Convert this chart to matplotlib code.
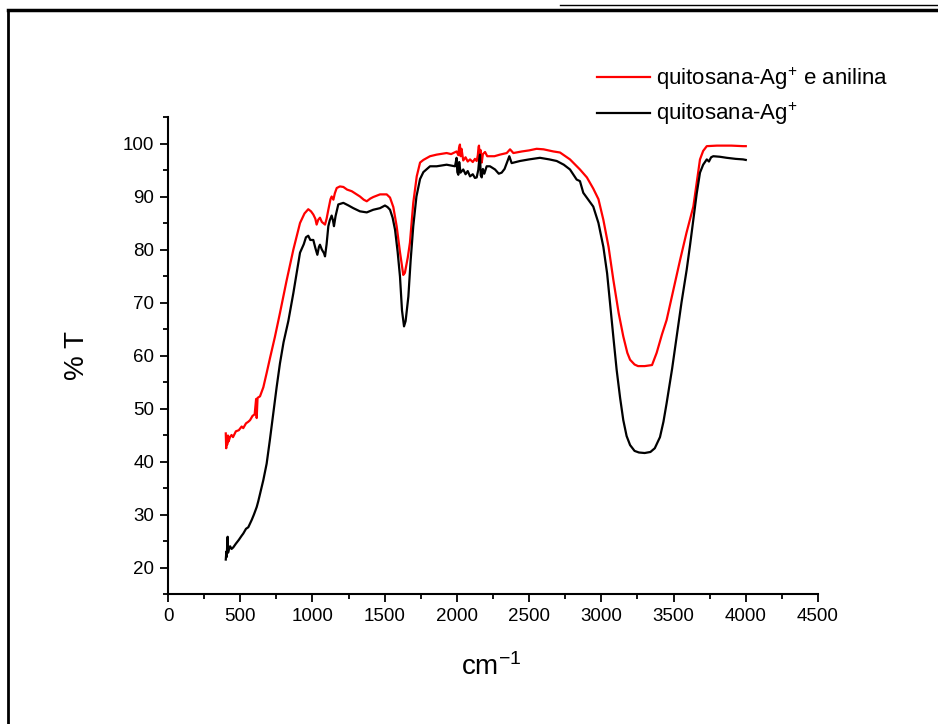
import matplotlib
matplotlib.use("Agg")
import matplotlib.pyplot as plt
from matplotlib.lines import Line2D
from matplotlib.ticker import MultipleLocator

plt.rcParams['font.family'] = ['Liberation Sans', 'DejaVu Sans']
plt.rcParams['mathtext.fontset'] = 'custom'
plt.rcParams['mathtext.rm'] = 'Liberation Sans'
plt.rcParams['mathtext.it'] = 'Liberation Sans'

# quitosana-Ag+ e anilina (red)
wn_red = [400, 403, 406, 410, 415, 420, 429, 440, 450, 470, 490, 510, 521, 540, 556, 568,
          585, 600, 610, 614, 620, 637, 660, 683, 706, 740, 775, 820, 868, 914, 945, 971,
          990, 1006, 1020, 1029, 1040, 1052, 1065, 1087, 1098, 1110, 1125, 1133, 1145, 1155,
          1168, 1190, 1214, 1240, 1272, 1300, 1329, 1355, 1376, 1400, 1421, 1468, 1514, 1537,
          1560, 1583, 1606, 1629, 1640, 1660, 1675, 1698, 1722, 1745, 1768, 1814, 1860, 1929,
          1960, 1998, 2010, 2015, 2021, 2026, 2032, 2044, 2060, 2075, 2091, 2110, 2125, 2137,
          2145, 2150, 2153, 2158, 2163, 2172, 2180, 2195, 2210, 2229, 2260, 2298, 2345, 2368,
          2391, 2450, 2500, 2552, 2600, 2668, 2714, 2783, 2852, 2900, 2944, 2980, 3014, 3050,
          3083, 3120, 3152, 3180, 3199, 3230, 3254, 3300, 3351, 3383, 3420, 3452, 3500, 3545,
          3590, 3637, 3660, 3683, 3705, 3730, 3800, 3900, 3981, 4000]
t_red = [45.3, 42.5, 44.8, 43.2, 44.9, 43.8, 44.6, 45.0, 44.6, 45.7, 45.9, 46.6, 46.3, 47.2, 47.5, 47.8,
         48.6, 48.9, 51.8, 48.2, 52.0, 52.3, 54.0, 56.7, 59.5, 63.5, 68.0, 74.0, 80.0, 85.0, 86.8, 87.6,
         87.2, 86.6, 85.8, 84.7, 85.6, 86.0, 85.2, 84.7, 85.8, 87.5, 89.5, 90.0, 89.4, 90.6,
         91.6, 91.9, 91.8, 91.3, 91.0, 90.5, 90.0, 89.4, 89.1, 89.6, 89.9, 90.4, 90.4, 89.8,
         88.0, 84.4, 79.5, 75.2, 75.6, 78.5, 81.3, 88.8, 93.8, 96.4, 96.9, 97.6, 97.9, 98.2,
         98.0, 98.5, 97.8, 99.2, 99.8, 97.6, 99.0, 96.8, 97.4, 96.6, 97.0, 96.5, 97.1, 96.7,
         97.8, 99.3, 99.6, 96.6, 98.8, 96.4, 98.0, 98.4, 97.6, 97.6, 97.6, 97.9, 98.2, 98.9,
         98.2, 98.5, 98.7, 99.0, 98.9, 98.5, 98.3, 97.0, 95.1, 93.6, 91.5, 89.5, 85.6, 80.5,
         74.3, 68.0, 63.6, 60.5, 59.2, 58.3, 58.0, 58.0, 58.2, 60.5, 64.0, 66.7, 72.5, 78.0,
         83.2, 88.1, 92.5, 97.0, 98.6, 99.5, 99.6, 99.6, 99.5, 99.5]

# quitosana-Ag+ (black)
wn_black = [400, 404, 407, 410, 413, 416, 420, 430, 440, 452, 470, 490, 510, 521, 540, 556,
            580, 595, 614, 625, 637, 660, 683, 705, 729, 752, 775, 800, 833, 868, 914, 940,
            955, 971, 985, 1006, 1020, 1034, 1045, 1052, 1065, 1080, 1087, 1098, 1110, 1120,
            1133, 1142, 1149, 1160, 1179, 1214, 1250, 1283, 1329, 1376, 1421, 1468, 1502, 1520,
            1537, 1555, 1572, 1590, 1606, 1620, 1634, 1645, 1664, 1680, 1698, 1720, 1745, 1768,
            1814, 1860, 1929, 1987, 1995, 1998, 2003, 2010, 2016, 2025, 2044, 2060, 2075, 2091,
            2110, 2125, 2137, 2148, 2155, 2160, 2165, 2172, 2180, 2190, 2206, 2229, 2264, 2290,
            2310, 2330, 2345, 2363, 2379, 2437, 2500, 2575, 2640, 2691, 2740, 2783, 2829, 2852,
            2875, 2944, 2980, 3014, 3040, 3060, 3085, 3106, 3130, 3152, 3175, 3199, 3230, 3260,
            3300, 3340, 3370, 3406, 3430, 3452, 3490, 3522, 3555, 3591, 3615, 3637, 3660, 3683,
            3705, 3730, 3745, 3760, 3775, 3820, 3868, 3930, 3981, 4000]
t_black = [21.5, 23.0, 22.0, 24.5, 25.8, 22.8, 23.3, 24.0, 23.5, 23.8, 24.5, 25.2, 26.0, 26.4, 27.3, 27.6,
           29.0, 30.0, 31.4, 32.5, 33.9, 36.5, 39.6, 44.0, 49.1, 54.0, 58.5, 62.5, 66.5, 71.8, 79.4, 81.0,
           82.3, 82.6, 81.8, 81.8, 80.3, 79.0, 80.5, 80.9, 80.0, 79.3, 78.7, 81.0, 84.4, 85.5,
           86.4, 85.5, 84.4, 86.3, 88.5, 88.8, 88.3, 87.8, 87.2, 87.0, 87.5, 87.8, 88.3, 88.0,
           87.5, 86.0, 83.7, 79.5, 74.9, 68.5, 65.5, 66.5, 71.1, 78.0, 84.4, 90.0, 93.3, 94.6,
           95.7, 95.7, 96.0, 95.7, 96.8, 97.3, 94.6, 94.1, 96.5, 94.5, 95.1, 94.2, 94.8, 93.8,
           94.2, 93.5, 93.6, 95.0, 97.0, 97.9, 94.0, 93.6, 95.2, 94.3, 95.7, 95.7, 95.1, 94.3,
           94.5, 95.2, 96.3, 97.6, 96.3, 96.7, 97.0, 97.3, 97.0, 96.7, 96.0, 95.1, 93.2, 92.9,
           90.7, 88.1, 85.0, 80.5, 75.5, 69.9, 63.0, 57.3, 52.0, 47.8, 44.8, 43.1, 42.0, 41.7,
           41.6, 41.8, 42.5, 44.6, 47.5, 51.0, 57.5, 63.6, 70.0, 76.2, 81.0, 85.6, 90.5, 94.5,
           96.0, 97.0, 96.6, 97.4, 97.6, 97.5, 97.3, 97.1, 97.0, 96.9]

fig = plt.figure(figsize=(9.38, 7.24), dpi=100)
ax = fig.add_axes([168 / 938, 1 - 594 / 724, 650 / 938, 477 / 724])

ax.plot(wn_red, t_red, color='#ff0000', lw=1.6, label='quitosana-Ag$^{+}$ e anilina')
ax.plot(wn_black, t_black, color='black', lw=1.6, label='quitosana-Ag$^{+}$')

ax.set_xlim(0, 4500)
ax.set_ylim(15, 105)
ax.xaxis.set_major_locator(MultipleLocator(500))
ax.xaxis.set_minor_locator(MultipleLocator(250))
ax.yaxis.set_minor_locator(MultipleLocator(5))
ax.set_yticks(range(20, 101, 10))

for side in ['top', 'right']:
    ax.spines[side].set_visible(False)
for side in ['left', 'bottom']:
    ax.spines[side].set_linewidth(1.5)
ax.tick_params(which='major', direction='out', length=6, width=1.3, labelsize=13.5, pad=4)
ax.tick_params(which='minor', direction='out', length=3.5, width=1.3)

ax.set_ylabel('% T', fontsize=20)
ax.yaxis.set_label_coords(-0.12, 0.5)
ax.set_xlabel('cm$^{-1}$', fontsize=20)
ax.xaxis.set_label_coords(0.498, -0.125)

ax.legend(loc='upper left', bbox_to_anchor=(0.66, 1.108), frameon=False, fontsize=16,
          handlelength=2.4, handletextpad=0.25, labelspacing=0.4, borderpad=0, borderaxespad=0)

# page border
fig.add_artist(Line2D([8 / 938, 1], [1 - 10 / 724, 1 - 10 / 724], color='black', lw=2.5,
                      transform=fig.transFigure))
fig.add_artist(Line2D([560 / 938, 1], [1 - 5 / 724, 1 - 5 / 724], color='black', lw=1,
                      transform=fig.transFigure))
fig.add_artist(Line2D([8 / 938, 8 / 938], [0, 1 - 10 / 724], color='black', lw=2,
                      transform=fig.transFigure))

fig.savefig('out.png', dpi=100)
